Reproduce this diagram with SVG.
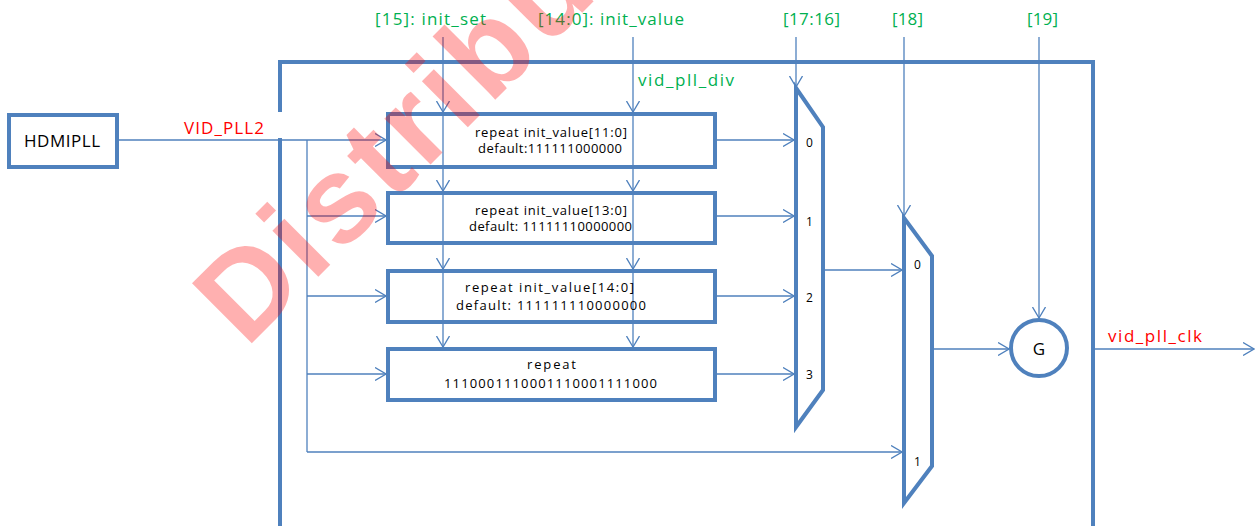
<svg xmlns="http://www.w3.org/2000/svg" width="1256" height="526" viewBox="0 0 1256 526">
<style>
.thick{fill:#fff;stroke:#4F81BD;stroke-width:4}
.frame{fill:none;stroke:#4F81BD;stroke-width:4}
.wire{fill:none;stroke:#4F81BD;stroke-width:1.3}
.arr{marker-end:url(#ah)}
.t{font-family:"Open Sans","Liberation Sans",sans-serif}
.big{font-size:17px}
.box{font-size:13px;fill:#000}
.mx{font-size:12px;fill:#000}
.g{fill:#00B050}
.r{fill:#FF0000}
.k{fill:#000}
.wm{font-family:"Liberation Sans",Arial,sans-serif;font-weight:bold;font-size:123px;letter-spacing:5px;fill:#FF0000;fill-opacity:0.31}
</style>
<defs>
<marker id="ah" viewBox="0 0 12 14" refX="11" refY="7" markerWidth="12" markerHeight="14" markerUnits="userSpaceOnUse" orient="auto">
<path d="M0,0.5 L11,7 L0,13.5" fill="none" stroke="#4F81BD" stroke-width="1.3"/>
</marker>
</defs>
<rect width="1256" height="526" fill="#fff"/>

<g id="frame">
<rect class="frame" x="280" y="62" width="813" height="490"/>
</g>

<g id="hdmipll">
<rect class="thick" x="9" y="115" width="108" height="52"/>
<text class="t big k" x="24" y="147" textLength="76" lengthAdjust="spacing">HDMIPLL</text>
</g>

<g id="connectors">
<rect x="180" y="112" width="104" height="26" fill="#fff"/>
<text class="t big r" x="184" y="134" textLength="80" lengthAdjust="spacing">VID_PLL2</text>
<line class="wire arr" x1="117" y1="140" x2="386" y2="140"/>
<polyline class="wire" points="307,140 307,452"/>
<line class="wire arr" x1="307" y1="216" x2="386" y2="216"/>
<line class="wire arr" x1="307" y1="296" x2="386" y2="296"/>
<line class="wire arr" x1="307" y1="374" x2="386" y2="374"/>
<line class="wire arr" x1="307" y1="452" x2="902" y2="452"/>

<line class="wire arr" x1="443" y1="37" x2="443" y2="112"/>
<line class="wire arr" x1="443" y1="112" x2="443" y2="191"/>
<line class="wire arr" x1="443" y1="191" x2="443" y2="269"/>
<line class="wire arr" x1="443" y1="269" x2="443" y2="347"/>
<line class="wire arr" x1="633" y1="37" x2="633" y2="112"/>
<line class="wire arr" x1="633" y1="112" x2="633" y2="191"/>
<line class="wire arr" x1="633" y1="191" x2="633" y2="269"/>
<line class="wire arr" x1="633" y1="269" x2="633" y2="347"/>

<line class="wire arr" x1="796" y1="37" x2="796" y2="87"/>
<line class="wire arr" x1="904" y1="37" x2="904" y2="216"/>
<line class="wire arr" x1="1039" y1="37" x2="1039" y2="318"/>

<line class="wire arr" x1="715" y1="140" x2="794" y2="140"/>
<line class="wire arr" x1="715" y1="216" x2="794" y2="216"/>
<line class="wire arr" x1="715" y1="296" x2="794" y2="296"/>
<line class="wire arr" x1="715" y1="374" x2="794" y2="374"/>
<line class="wire arr" x1="823" y1="270" x2="902" y2="270"/>
<line class="wire arr" x1="932" y1="349" x2="1009" y2="349"/>
<line class="wire arr" x1="1093" y1="349" x2="1254" y2="349"/>

<text class="t big g" x="375" y="25" textLength="111" lengthAdjust="spacing">[15]: init_set</text>
<text class="t big g" x="538" y="25" textLength="146" lengthAdjust="spacing">[14:0]: init_value</text>
<text class="t big g" x="783" y="25" textLength="57" lengthAdjust="spacing">[17:16]</text>
<text class="t big g" x="892" y="25" textLength="31" lengthAdjust="spacing">[18]</text>
<text class="t big g" x="1027" y="25" textLength="31" lengthAdjust="spacing">[19]</text>
<text class="t big g" x="638" y="86" textLength="96" lengthAdjust="spacing">vid_pll_div</text>
<text class="t big r" x="1108" y="342" textLength="94" lengthAdjust="spacing">vid_pll_clk</text>
</g>

<g id="box1">
<rect class="thick" x="388" y="114" width="327" height="53" fill-opacity="0"/>
<text class="t box" x="475" y="137" textLength="152" lengthAdjust="spacing">repeat  init_value[11:0]</text>
<text class="t box" x="478" y="153" textLength="144" lengthAdjust="spacing">default:111111000000</text>
</g>
<g id="box2">
<rect class="thick" x="388" y="193" width="327" height="50" fill-opacity="0"/>
<text class="t box" x="475" y="215" textLength="152" lengthAdjust="spacing">repeat  init_value[13:0]</text>
<text class="t box" x="469" y="231" textLength="163" lengthAdjust="spacing">default: 11111110000000</text>
</g>
<g id="box3">
<rect class="thick" x="388" y="271" width="327" height="51" fill-opacity="0"/>
<text class="t box" x="465" y="292" textLength="169" lengthAdjust="spacing">repeat  init_value[14:0]</text>
<text class="t box" x="456" y="310" textLength="190" lengthAdjust="spacing">default: 111111110000000</text>
</g>
<g id="box4">
<rect class="thick" x="388" y="349" width="327" height="51"/>
<text class="t box" x="527" y="369" textLength="49" lengthAdjust="spacing">repeat</text>
<text class="t box" x="444" y="388" textLength="213" lengthAdjust="spacing">1110001110001110001111000</text>
</g>

<g id="mux1">
<polygon class="thick" points="796,88 823,127 823,390 796,427"/>
<text class="t mx" x="806" y="147">0</text>
<text class="t mx" x="806" y="226">1</text>
<text class="t mx" x="806" y="302">2</text>
<text class="t mx" x="806" y="379">3</text>
</g>
<g id="mux2">
<polygon class="thick" points="904,218 932,256 932,466 904,503"/>
<text class="t mx" x="914" y="269">0</text>
<text class="t mx" x="914" y="466">1</text>
</g>
<g id="gate">
<circle class="thick" cx="1039" cy="348" r="28"/>
<text class="t big k" x="1039" y="355" text-anchor="middle" font-size="18">G</text>
</g>

<text class="wm" transform="translate(246,349) rotate(-45)">Distribu</text>
</svg>
